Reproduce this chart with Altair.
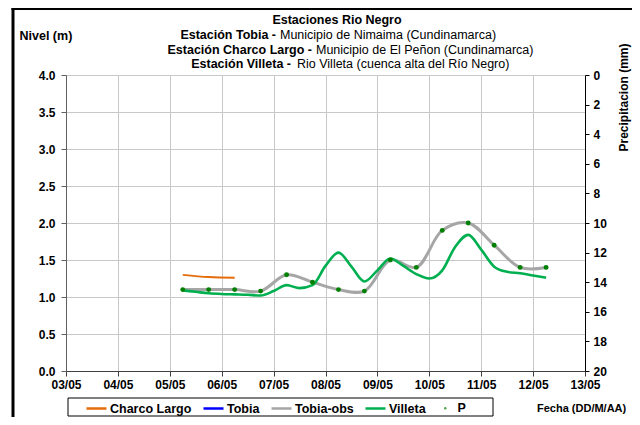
import altair as alt
import pandas as pd

# ---------------- data ----------------
obs_times = ["2011-05-05T06:00", "2011-05-05T18:00", "2011-05-06T06:00", "2011-05-06T18:00",
             "2011-05-07T06:00", "2011-05-07T18:00", "2011-05-08T06:00", "2011-05-08T18:00",
             "2011-05-09T06:00", "2011-05-09T18:00", "2011-05-10T06:00", "2011-05-10T18:00",
             "2011-05-11T06:00", "2011-05-11T18:00", "2011-05-12T06:00"]
tobia_obs = [1.10, 1.10, 1.10, 1.08, 1.30, 1.20, 1.10, 1.08, 1.50, 1.40, 1.90, 2.00, 1.70, 1.40, 1.40]

charco_times = ["2011-05-05T06:00", "2011-05-05T18:00", "2011-05-06T06:00"]
charco_largo = [1.30, 1.27, 1.26]

villeta_times = ["2011-05-05T06:00", "2011-05-05T12:00", "2011-05-05T18:00",
                 "2011-05-06T00:00", "2011-05-06T06:00", "2011-05-06T12:00", "2011-05-06T18:00",
                 "2011-05-07T00:00", "2011-05-07T06:00", "2011-05-07T12:00", "2011-05-07T18:00",
                 "2011-05-08T00:00", "2011-05-08T06:00", "2011-05-08T12:00", "2011-05-08T18:00",
                 "2011-05-09T00:00", "2011-05-09T06:00", "2011-05-09T12:00", "2011-05-09T18:00",
                 "2011-05-10T00:00", "2011-05-10T06:00", "2011-05-10T12:00", "2011-05-10T18:00",
                 "2011-05-11T00:00", "2011-05-11T06:00", "2011-05-11T12:00", "2011-05-11T18:00",
                 "2011-05-12T00:00", "2011-05-12T06:00"]
villeta = [1.09, 1.07, 1.05,
           1.04, 1.035, 1.03, 1.02,
           1.08, 1.16, 1.12, 1.16,
           1.42, 1.60, 1.41, 1.21,
           1.36, 1.52, 1.42, 1.31,
           1.25, 1.36, 1.68, 1.84,
           1.64, 1.41, 1.34, 1.32,
           1.29, 1.26]

tobia_times = []
tobia = []
p_times = []
p_values = []

series_names = ["Charco Largo", "Tobia", "Tobia-obs", "Villeta"]
series_colors = ["#E46C0A", "#0000FF", "#A6A6A6", "#00B050"]
level_ticks = [0, 0.5, 1.0, 1.5, 2.0, 2.5, 3.0, 3.5, 4.0]
precip_ticks = [0, 2, 4, 6, 8, 10, 12, 14, 16, 18, 20]
day_ticks = [3, 4, 5, 6, 7, 8, 9, 10, 11, 12, 13]

FONT = "Liberation Sans"


def frame(times, values, name):
    return pd.DataFrame({"t": pd.Series(times, dtype="object"),
                         "v": pd.Series(values, dtype="float"),
                         "s": name})


df_charco = frame(charco_times, charco_largo, "Charco Largo")
df_tobia = frame(tobia_times, tobia, "Tobia")
df_obs = frame(obs_times, tobia_obs, "Tobia-obs")
df_villeta = frame(villeta_times, villeta, "Villeta")
df_p = pd.DataFrame({"t": pd.Series(p_times, dtype="object"),
                     "p": pd.Series(p_values, dtype="float"),
                     "s": pd.Series([], dtype="object")})

# ---------------- scales / axes ----------------
x_scale = alt.Scale(domain=[alt.DateTime(year=2011, month=5, date=3),
                            alt.DateTime(year=2011, month=5, date=13)])
x_axis = alt.Axis(values=[alt.DateTime(year=2011, month=5, date=d) for d in day_ticks],
                  format="%d/%m", title=None, grid=True, gridColor="#C8C8C8",
                  domainColor="#404040", tickColor="#404040", tickSize=5, labelPadding=3,
                  labelFlush=False, labelOverlap=False)
y_scale = alt.Scale(domain=[0, 4])
y_axis = alt.Axis(values=level_ticks, format=".1f", grid=True, gridColor="#C8C8C8",
                  domainColor="#606060", tickColor="#606060", tickSize=5, labelPadding=6,
                  labelFlush=False, title="Nivel (m)", titleAngle=0, titleX=-47, titleY=-40,
                  titleAlign="left", titleBaseline="middle", titleFontSize=12.5)
p_scale = alt.Scale(domain=[0, 20], reverse=True)
p_axis = alt.Axis(orient="right", values=precip_ticks, grid=False, domainColor="black",
                  tickColor="black", tickSize=4, labelPadding=4, labelFlush=False,
                  title="Precipitacion (mm)", titleAngle=270, titleX=38, titleY=22,
                  titleAlign="center", titleBaseline="middle")

color_scale = alt.Scale(domain=series_names, range=series_colors)
color_legend = alt.Legend(orient="none", legendX=19, legendY=322, direction="horizontal",
                          title=None, symbolType="stroke", symbolStrokeWidth=2.5,
                          symbolSize=400, labelFontWeight="bold", labelFontSize=12.5,
                          labelFont=FONT, columnPadding=6, labelOffset=2)
shape_legend = alt.Legend(orient="none", legendX=373, legendY=327, title=None,
                          symbolType="circle", symbolSize=6, symbolFillColor="#008000",
                          symbolStrokeColor="#008000", labelFontWeight="bold",
                          labelFontSize=12.5, labelFont=FONT, labelOffset=6)

X = alt.X("t:T", scale=x_scale, axis=x_axis)
Y = alt.Y("v:Q", scale=y_scale, axis=y_axis)
C = alt.Color("s:N", scale=color_scale, legend=color_legend)


def line(df, width, interp):
    return alt.Chart(df).mark_line(strokeWidth=width, interpolate=interp).encode(x=X, y=Y, color=C)


lines = alt.layer(
    line(df_charco, 1.8, "monotone"),
    line(df_tobia, 2.5, "monotone"),
    line(df_obs, 3, "catmull-rom"),
    line(df_villeta, 2.6, "monotone"),
    alt.Chart(df_obs).mark_circle(size=24, color="#008000", opacity=1).encode(x=X, y=Y),
)

p_layer = alt.Chart(df_p).mark_point(filled=True, size=6, color="#008000").encode(
    x=X,
    y=alt.Y("p:Q", scale=p_scale, axis=p_axis),
    shape=alt.Shape("s:N", scale=alt.Scale(domain=["P"], range=["circle"]), legend=shape_legend),
)

# ---------------- decorations ----------------
one = pd.DataFrame({"a": [0]})


def txt(text, x, y, align, bold, size=12.5):
    return alt.Chart(one).mark_text(text=text, align=align, baseline="middle", font=FONT,
                                    fontSize=size, fontWeight="bold" if bold else "normal",
                                    color="black").encode(x=alt.value(x), y=alt.value(y))


deco = alt.layer(
    alt.Chart(one).mark_rule(color="black", strokeWidth=3).encode(
        x=alt.value(-53), y=alt.value(-67), y2=alt.value(360)),
    alt.Chart(one).mark_rule(color="black", strokeWidth=3).encode(
        x=alt.value(-54.5), x2=alt.value(620), y=alt.value(-66.5)),
    alt.Chart(one).mark_rect(fill="white", stroke="black", strokeWidth=1).encode(
        x=alt.value(2), x2=alt.value(427), y=alt.value(323), y2=alt.value(341)),
    txt("Estaciones Rio Negro", 271, -55, "center", True),
    txt("Estación Tobia -", 210, -40, "right", True),
    txt("Municipio de Nimaima (Cundinamarca)", 214, -40, "left", False),
    txt("Estación Charco Largo -", 246, -25.5, "right", True),
    txt("Municipio de El Peñon (Cundinamarca)", 250, -25.5, "left", False),
    txt("Estación Villeta -", 225, -11, "right", True),
    txt("Rio Villeta (cuenca alta del Río Negro)", 231, -11, "left", False),
    txt("Fecha (DD/M/AA)", 471, 334, "left", True, 11),
)

chart = alt.layer(lines, p_layer, deco).resolve_scale(y="independent").properties(
    width=519, height=296,
    autosize=alt.AutoSizeParams(type="none"),
    padding={"left": 58, "top": 67, "right": 47, "bottom": 46},
).configure(font=FONT).configure_axis(
    labelFont=FONT, labelFontWeight="bold", labelFontSize=12, labelColor="black",
    titleFont=FONT, titleFontWeight="bold", titleFontSize=12, titleColor="black",
).configure_view(stroke=None)

chart.save("out.html", embed_options={"renderer": "svg", "actions": False})
